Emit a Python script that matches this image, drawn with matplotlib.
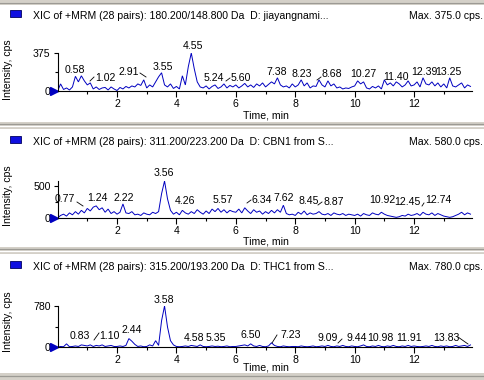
import matplotlib
matplotlib.use("Agg")
import matplotlib.pyplot as plt
from matplotlib.lines import Line2D
from matplotlib.patches import Rectangle
import numpy as np

plt.rcParams['font.family'] = ['Liberation Sans', 'DejaVu Sans']

# ---------------- data ----------------
t_start, t_step = 0.0, 0.1

intensity_180 = [
    0, 70, 15, 30, 10, 40, 145, 90, 150, 100,
    60, 80, 20, 40, 15, 30, 35, 10, 40, 20,
    5, 35, 20, 45, 30, 50, 40, 70, 55, 110,
    30, 60, 40, 90, 140, 180, 60, 40, 70, 25,
    45, 20, 150, 60, 240, 375, 220, 90, 40, 30,
    50, 20, 45, 60, 25, 40, 70, 30, 55, 40,
    60, 30, 50, 75, 40, 60, 35, 70, 50, 80,
    40, 65, 90, 70, 130, 60, 40, 50, 30, 70,
    40, 60, 110, 50, 80, 30, 50, 45, 110, 60,
    40, 100, 50, 70, 30, 40, 20, 30, 25, 40,
    50, 100, 70, 90, 30, 20, 45, 30, 50, 20,
    110, 60, 80, 50, 90, 70, 40, 60, 100, 50,
    60, 90, 40, 130, 70, 60, 90, 50, 80, 40,
    70, 30, 130, 50, 40, 60, 80, 30, 60, 45,
]
intensity_311 = [
    0, 40, 60, 30, 80, 50, 100, 60, 120, 80,
    150, 110, 170, 190, 130, 160, 90, 140, 70, 100,
    60, 90, 220, 80, 70, 100, 50, 60, 40, 80,
    60, 50, 90, 70, 100, 380, 580, 300, 120, 60,
    90, 50, 120, 80, 60, 100, 70, 130, 90, 60,
    110, 70, 140, 100, 150, 90, 130, 80, 120, 100,
    90, 140, 80, 160, 110, 70, 130, 90, 110, 60,
    100, 70, 120, 80, 130, 90, 200, 70, 50, 60,
    40, 90, 60, 110, 50, 80, 60, 70, 100, 60,
    50, 70, 40, 80, 60, 50, 70, 40, 60, 50,
    40, 60, 30, 70, 50, 40, 80, 60, 50, 90,
    60, 40, 30, 20, 10, 20, 40, 30, 60, 40,
    50, 70, 40, 90, 60, 50, 80, 40, 70, 50,
    30, 20, 10, 20, 40, 60, 90, 50, 80, 60,
]
intensity_315 = [
    0, 10, 5, 60, 5, 10, 20, 10, 40, 30,
    20, 40, 10, 30, 20, 40, 10, 20, 30, 10,
    10, 20, 10, 30, 160, 110, 50, 10, 20, 5,
    10, 40, 20, 120, 30, 500, 780, 380, 120, 40,
    10, 5, 10, 20, 10, 30, 20, 10, 40, 10,
    5, 10, 20, 10, 15, 5, 10, 20, 5, 10,
    10, 20, 30, 40, 20, 60, 20, 10, 30, 10,
    5, 20, 80, 30, 10, 5, 20, 10, 5, 10,
    10, 5, 20, 10, 5, 10, 20, 5, 10, 20,
    10, 30, 10, 5, 20, 10, 30, 10, 5, 20,
    10, 5, 20, 40, 10, 5, 20, 10, 30, 10,
    5, 20, 10, 30, 10, 5, 20, 10, 30, 10,
    20, 10, 5, 10, 20, 10, 30, 10, 5, 20,
    10, 20, 5, 10, 30, 10, 20, 30, 10, 40,
]

titles = [
    "XIC of +MRM (28 pairs): 180.200/148.800 Da  D: jiayangnami...",
    "XIC of +MRM (28 pairs): 311.200/223.200 Da  D: CBN1 from S...",
    "XIC of +MRM (28 pairs): 315.200/193.200 Da  D: THC1 from S...",
]
max_texts = ["Max. 375.0 cps.", "Max. 580.0 cps.", "Max. 780.0 cps."]
y_max = [375, 580, 780]
y_tick_top = [375, 500, 780]
x_ticks = [2, 4, 6, 8, 10, 12]
x_minor = [1, 3, 5, 7, 9, 11, 13]

peak_labels = [
    ["0.58", "1.02", "2.91", "3.55", "4.55", "5.24", "5.60", "7.38", "8.23",
     "8.68", "10.27", "11.40", "12.39", "13.25"],
    ["0.77", "1.24", "2.22", "3.56", "4.26", "5.57", "6.34", "7.62", "8.45",
     "8.87", "10.92", "12.45", "12.74"],
    ["0.83", "1.10", "2.44", "3.58", "4.58", "5.35", "6.50", "7.23", "9.09",
     "9.44", "10.98", "11.91", "13.83"],
]

# ---------------- layout (pixels) ----------------
W, H = 485, 380
fig = plt.figure(figsize=(W / 100, H / 100), dpi=100)
fig.patch.set_facecolor("white")


def fx(x):
    return x / W


def fy(y):
    return 1 - y / H


series = [intensity_180, intensity_311, intensity_315]
zero_px = [91.0, 218.0, 347.0]
top_px = [53.0, 181.0, 306.0]
header_px = [16.0, 142.0, 267.0]
xlabel_px = [116.0, 241.5, 368.0]
ylabel_px = [70.0, 196.0, 322.0]
ax_left, ax_right = 57.6, 472.0

label_pos = [
    [(75, 70), (105, 78), (129, 72), (163, 67), (193, 46), (214, 78), (241, 78),
     (277, 72), (302, 74), (332, 74), (363, 74), (396, 77), (424, 72), (448, 72)],
    [(65, 199), (97, 198), (124, 198), (164, 173), (185, 201), (223, 200),
     (262, 200), (284, 198), (309, 201), (334, 202), (382, 200), (407, 202),
     (438, 200)],
    [(80, 336), (109, 336), (132, 330), (164, 300), (194, 338), (216, 338),
     (251, 335), (291, 335), (328, 338), (357, 338), (380, 338), (409, 338),
     (446, 338)],
]
leaders = [
    [((90, 81), (94, 77)), ((140, 73), (146, 77)), ((226, 81), (230, 78)),
     ((317, 80), (321, 77))],
    [((77, 202), (83, 206)), ((247, 203), (251, 200)), ((318, 205), (322, 202)),
     ((422, 206), (424, 203))],
    [((94, 340), (99, 333)), ((272, 343), (277, 335)), ((338, 343), (342, 339)),
     ((458, 337), (468, 344))],
]

gray = "#d4d0c8"
dark = "#9c9a94"


def sep_band(y0, y1):
    fig.patches.append(Rectangle((0, fy(y1)), 1, (y1 - y0) / H, transform=fig.transFigure,
                                 facecolor=gray, edgecolor="none", zorder=0))


# separator bands
sep_band(0, 4.5)
fig.add_artist(Line2D([0, 1], [fy(2.5), fy(2.5)], color=dark, lw=0.8))
for yb in (121.5, 246.5):
    sep_band(yb, yb + 7)
    fig.add_artist(Line2D([0, 1], [fy(yb + 2.5), fy(yb + 2.5)], color=dark, lw=0.9))
    fig.add_artist(Line2D([0, 1], [fy(yb + 4.3), fy(yb + 4.3)], color="white", lw=0.9))
sep_band(373, 380)
fig.add_artist(Line2D([0, 1], [fy(375.5), fy(375.5)], color=dark, lw=0.9))

trace_color = "#0000c0"
fs = 7.6

for i in range(3):
    vals = np.array(series[i], dtype=float)
    t = t_start + t_step * np.arange(len(vals))
    z, tp = zero_px[i], top_px[i]
    ax = fig.add_axes([fx(ax_left), fy(z), (ax_right - ax_left) / W, (z - tp) / H])
    ax.patch.set_alpha(0)
    ax.plot(t, vals, color=trace_color, lw=0.7, solid_joinstyle="miter")
    ax.plot([-0.12], [0], marker=">", ms=5.5, color=trace_color, clip_on=False)
    ax.set_xlim(0, 13.95)
    ax.set_ylim(0, y_max[i])
    for s in ("top", "right"):
        ax.spines[s].set_visible(False)
    for s in ("left", "bottom"):
        ax.spines[s].set_color("black")
        ax.spines[s].set_linewidth(0.8)
    ax.set_xticks(x_ticks)
    ax.set_xticklabels([str(v) for v in x_ticks])
    ax.set_xticks(x_minor, minor=True)
    ax.set_yticks([0, y_tick_top[i]])
    ax.set_yticklabels(["0", str(y_tick_top[i])])
    ax.set_yticks([y_tick_top[i] / 2], minor=True)
    ax.tick_params(axis="x", which="major", length=4, width=0.8, direction="out",
                   labelsize=fs, pad=2)
    ax.tick_params(axis="x", which="minor", length=2, width=0.8, direction="out")
    ax.tick_params(axis="y", which="major", length=3, width=0.8, direction="out",
                   labelsize=fs, pad=2)
    ax.tick_params(axis="y", which="minor", length=2, width=0.8, direction="out")

    # header
    hy = header_px[i]
    fig.patches.append(Rectangle((fx(10), fy(hy + 0.5)), 11 / W, 7 / H,
                                 transform=fig.transFigure, facecolor="#1010e0",
                                 edgecolor="#000060", lw=0.6))
    fig.text(fx(33), fy(hy), titles[i], fontsize=fs, ha="left", va="center")
    fig.text(fx(483), fy(hy), max_texts[i], fontsize=fs, ha="right", va="center")

    fig.text(fx(266), fy(xlabel_px[i]), "Time, min", fontsize=fs, ha="center", va="center")
    fig.text(fx(8), fy(ylabel_px[i]), "Intensity, cps", fontsize=fs, ha="center",
             va="center", rotation=90)

    for lab, (px, py) in zip(peak_labels[i], label_pos[i]):
        fig.text(fx(px), fy(py), lab, fontsize=fs, ha="center", va="center")
    for (a, b) in leaders[i]:
        fig.add_artist(Line2D([fx(a[0]), fx(b[0])], [fy(a[1]), fy(b[1])],
                              color="black", lw=0.6))

fig.savefig("out.png", dpi=100)
